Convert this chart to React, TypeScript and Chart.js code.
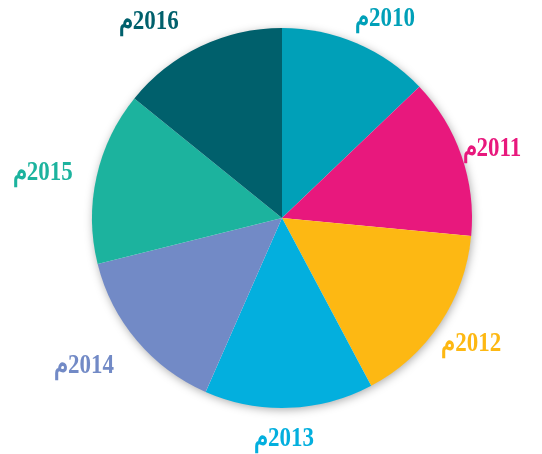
import React, { useEffect, useRef } from "react";
import { Chart, registerables } from "chart.js";

Chart.register(...registerables);

const labels = ["2010م", "2011م", "2012م", "2013م", "2014م", "2015م", "2016م"];
const values = [46.3, 49.1, 56.6, 51.7, 52.3, 53.0, 51.0];
const colors = ["#00A0B8", "#E8187D", "#FDB813", "#03AFDE", "#728AC6", "#1CB39E", "#00606C"];
// small label nudges (style only)
const labelNudge = [[8, 5], [-18, 4], [-12, 3], [-7, -1], [-13, 5], [-3, 3], [-29, 4]];

const shadowPlugin = {
  id: "pieShadow",
  beforeDatasetsDraw(chart: any) {
    const arc = chart.getDatasetMeta(0).data[0];
    if (!arc) return;
    const { x, y, outerRadius } = arc.getProps(["x", "y", "outerRadius"], true);
    const ctx = chart.ctx;
    ctx.save();
    ctx.shadowColor = "rgba(0,0,0,0.35)";
    ctx.shadowBlur = 10;
    ctx.shadowOffsetX = 1;
    ctx.shadowOffsetY = 2;
    ctx.fillStyle = "#ffffff";
    ctx.beginPath();
    ctx.arc(x, y, outerRadius - 0.5, 0, Math.PI * 2);
    ctx.fill();
    ctx.restore();
  },
};

const SX = 0.82;

const labelPlugin = {
  id: "outLabels",
  afterDatasetsDraw(chart: any) {
    const ctx = chart.ctx;
    const meta = chart.getDatasetMeta(0);
    ctx.save();
    ctx.font = "bold 28px 'Liberation Serif', 'Times New Roman', serif";
    ctx.textAlign = "center";
    ctx.textBaseline = "middle";
    (ctx as any).direction = "rtl";
    meta.data.forEach((arc: any, i: number) => {
      const { x, y, startAngle, endAngle, outerRadius } = arc.getProps(
        ["x", "y", "startAngle", "endAngle", "outerRadius"],
        true
      );
      const mid = (startAngle + endAngle) / 2;
      const ux = Math.cos(mid);
      const uy = Math.sin(mid);
      const text = chart.data.labels[i];
      const w = ctx.measureText(text).width * SX;
      const h = 20;
      const r = outerRadius + 22;
      const tx = x + r * ux + (w / 2) * ux + labelNudge[i][0];
      const ty = y + r * uy + (h / 2) * uy + labelNudge[i][1];
      ctx.save();
      ctx.translate(tx, ty);
      ctx.scale(SX, 1);
      ctx.fillStyle = colors[i];
      ctx.fillText(text, 0, 0);
      ctx.restore();
    });
    ctx.restore();
  },
};

export default function App() {
  const ref = useRef<HTMLCanvasElement>(null);
  useEffect(() => {
    if (!ref.current) return;
    const chart = new Chart(ref.current, {
      type: "pie",
      data: {
        labels,
        datasets: [
          {
            data: values,
            backgroundColor: colors,
            borderWidth: 0,
          },
        ],
      },
      options: {
        animation: false,
        responsive: false,
        maintainAspectRatio: false,
        layout: { padding: { left: 92, right: 70, top: 28, bottom: 46 } },
        plugins: {
          legend: { display: false },
          tooltip: { enabled: false },
        },
      },
      plugins: [shadowPlugin, labelPlugin],
    });
    return () => chart.destroy();
  }, []);
  return (
    <div style={{ position: "fixed", left: 0, top: 0, width: 542, height: 454, background: "#fff" }}>
      <canvas ref={ref} width={542} height={454} style={{ width: 542, height: 454 }} />
    </div>
  );
}
